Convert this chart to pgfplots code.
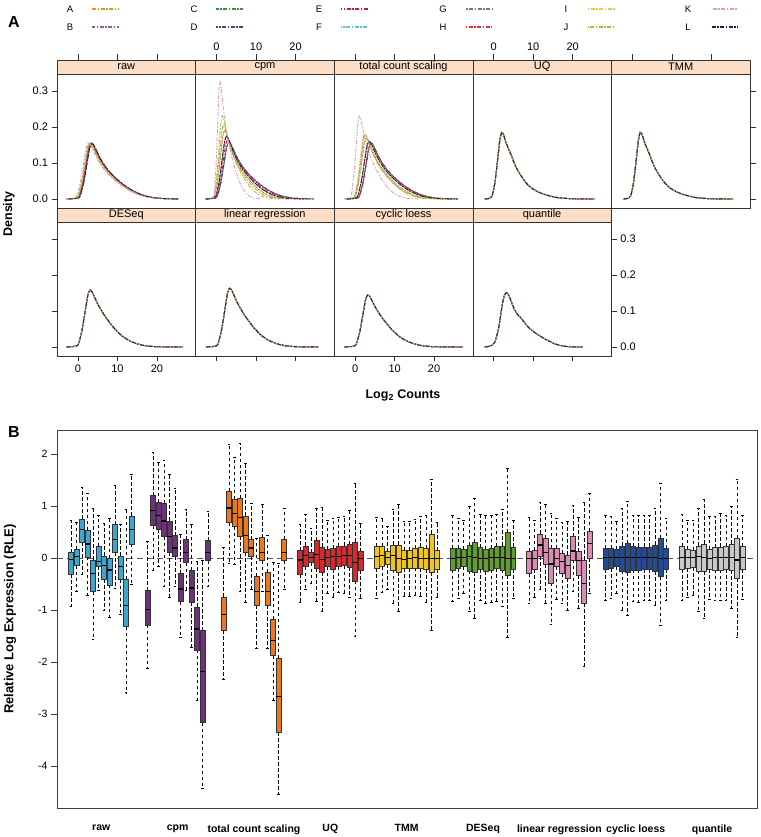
\documentclass[border=0pt]{standalone}
\usepackage{fontspec}
\setmainfont{Liberation Sans}
\usepackage{pgfplots}
\pgfplotsset{compat=1.18}
\usepackage{pgfplotstable}
\usepgfplotslibrary{statistics}

\definecolor{colA}{RGB}{240,140,40}
\definecolor{colB}{RGB}{140,90,160}
\definecolor{colC}{RGB}{60,140,70}
\definecolor{colD}{RGB}{70,70,130}
\definecolor{colE}{RGB}{190,30,60}
\definecolor{colF}{RGB}{100,190,225}
\definecolor{colG}{RGB}{120,120,120}
\definecolor{colH}{RGB}{225,50,50}
\definecolor{colI}{RGB}{240,200,60}
\definecolor{colJ}{RGB}{150,195,70}
\definecolor{colK}{RGB}{220,160,200}
\definecolor{colL}{RGB}{30,30,70}
\definecolor{frame}{RGB}{50,50,50}
\definecolor{stripc}{RGB}{252,221,198}
\definecolor{rawc}{RGB}{60,165,210}
\definecolor{cpmc}{RGB}{110,50,125}
\definecolor{tcsc}{RGB}{235,120,30}
\definecolor{uqc}{RGB}{215,40,45}
\definecolor{tmmc}{RGB}{240,195,30}
\definecolor{desc}{RGB}{95,160,45}
\definecolor{lrc}{RGB}{220,140,180}
\definecolor{clc}{RGB}{35,75,150}
\definecolor{qc}{RGB}{200,200,200}

\tikzset{
 dens/.style={line width=0.9pt, dash pattern=on 4pt off 1.5pt on 1.5pt off 1.5pt},
 dA/.style={dens, draw=colA, dash phase=0pt},
 dB/.style={dens, draw=colB, dash phase=0.7pt},
 dC/.style={dens, draw=colC, dash phase=1.4pt},
 dD/.style={dens, draw=colD, dash phase=2.1pt},
 dE/.style={dens, draw=colE, dash phase=2.8pt},
 dF/.style={dens, draw=colF, dash phase=3.5pt},
 dG/.style={dens, draw=colG, dash phase=4.2pt},
 dH/.style={dens, draw=colH, dash phase=4.9pt},
 dI/.style={dens, draw=colI, dash phase=5.6pt},
 dJ/.style={dens, draw=colJ, dash phase=6.3pt},
 dK/.style={dens, draw=colK, dash phase=7.0pt},
 dL/.style={dens, draw=colL, dash phase=7.7pt},
}

\pgfplotsset{
 dpanel/.style={scale only axis, anchor=south west, width=138.6pt, height=148pt,
   xmin=-5.3, xmax=29.8, ymin=-0.025, ymax=0.3859,
   xtick={0,10,20}, ytick={0,0.1,0.2,0.3},
   tick align=outside, major tick length=5.5pt,
   axis line style={draw=frame, line width=0.6pt},
   tick style={draw=frame, line width=0.6pt},
   tick label style={font=\fontsize{11}{13}\selectfont},
   axis on top,
   every axis plot/.append style={smooth, tension=0.4, no markers}},
 noxl/.style={xticklabels={\empty,\empty,\empty}},
 noyl/.style={yticklabels={\empty,\empty,\empty,\empty}},
 bxs/.style={draw=black, solid, line width=0.5pt,
   boxplot/draw direction=y,
   boxplot/box extend=0.9, boxplot/whisker extend=0.47,
   boxplot/every whisker/.style={dash pattern=on 3.5pt off 2.5pt, line width=0.6pt},
   boxplot/every median/.style={line width=1.3pt}},
}

\newcommand{\strip}[1]{%
 \fill[stripc] (rel axis cs:0,1) rectangle ([yshift=-14pt]rel axis cs:1,1);
 \draw[frame, line width=0.6pt] ([yshift=-14pt]rel axis cs:0,1) -- ([yshift=-14pt]rel axis cs:1,1);
 \node[font=\fontsize{11}{13}\selectfont, inner sep=0pt] at ([yshift=-7pt]rel axis cs:0.5,1) {#1};}

\newcommand{\allsame}[1]{%
 \addplot[dA] table {#1}; \addplot[dB] table {#1}; \addplot[dC] table {#1};
 \addplot[dD] table {#1}; \addplot[dE] table {#1}; \addplot[dF] table {#1};
 \addplot[dG] table {#1}; \addplot[dH] table {#1}; \addplot[dI] table {#1};
 \addplot[dJ] table {#1}; \addplot[dK] table {#1}; \addplot[dL] table {#1};}

\newcommand{\boxgrp}[3]{%
 \pgfplotsinvokeforeach{0,...,11}{%
  \pgfplotstablegetelem{##1}{lw}\of{#1}\let\bLW\pgfplotsretval
  \pgfplotstablegetelem{##1}{lq}\of{#1}\let\bLQ\pgfplotsretval
  \pgfplotstablegetelem{##1}{md}\of{#1}\let\bMD\pgfplotsretval
  \pgfplotstablegetelem{##1}{uq}\of{#1}\let\bUQ\pgfplotsretval
  \pgfplotstablegetelem{##1}{uw}\of{#1}\let\bUW\pgfplotsretval
  \pgfmathsetmacro\bPOS{2.545+13.882*#2+##1}%
  \edef\doit{\noexpand\addplot[bxs, boxplot/every box/.style={fill=#3, draw=black!80, line width=0.5pt}, boxplot prepared={draw direction=y, draw position=\bPOS, lower whisker=\bLW, lower quartile=\bLQ, median=\bMD, upper quartile=\bUQ, upper whisker=\bUW}] coordinates {};}%
  \doit
 }}

% ---------------- density data ----------------
\pgfplotstableread{
x26 x29 x30 x31 x32 x33 x34 x35 y
-3.4 -3.1 -3 -2.9 -2.8 -2.7 -2.6 -2.5 0
-1.4 -1.1 -1 -0.9 -0.8 -0.7 -0.6 -0.5 0.0016
-0.4 -0.1 0 0.1 0.2 0.3 0.4 0.5 0.0062
0.6 0.9 1 1.1 1.2 1.3 1.4 1.5 0.0465
1.6 1.9 2 2.1 2.2 2.3 2.4 2.5 0.1116
2.1 2.4 2.5 2.6 2.7 2.8 2.9 3.0 0.1426
2.6 2.9 3 3.1 3.2 3.3 3.4 3.5 0.155
3.1 3.4 3.5 3.6 3.7 3.8 3.9 4.0 0.1504
3.6 3.9 4 4.1 4.2 4.3 4.4 4.5 0.1395
4.6 4.9 5 5.1 5.2 5.3 5.4 5.5 0.1163
5.6 5.9 6 6.1 6.2 6.3 6.4 6.5 0.0977
6.6 6.9 7 7.1 7.2 7.3 7.4 7.5 0.0822
7.6 7.9 8 8.1 8.2 8.3 8.4 8.5 0.0698
8.6 8.9 9 9.1 9.2 9.3 9.4 9.5 0.0589
10.6 10.9 11 11.1 11.2 11.3 11.4 11.5 0.0403
12.6 12.9 13 13.1 13.2 13.3 13.4 13.5 0.0256
14.6 14.9 15 15.1 15.2 15.3 15.4 15.5 0.0147
16.6 16.9 17 17.1 17.2 17.3 17.4 17.5 0.0074
19.6 19.9 20 20.1 20.2 20.3 20.4 20.5 0.002
24.6 24.9 25 25.1 25.2 25.3 25.4 25.5 0
}\rawd

\pgfplotstableread{
xK yK xJ yJ xA yA xG yG xH yH xE yE xD yD
-2.0 0 -2.58 0 -2.84 0 -2.9 0 -2.84 0 -2.84 0 -2.78 0
-1.05 0.0033 -1.23 0.0023 -1.32 0.0021 -1.26 0.0019 -1.06 0.0017 -0.96 0.0017 -0.82 0.0016
-0.58 0.013 -0.56 0.0092 -0.57 0.0082 -0.45 0.0076 -0.17 0.007 -0.02 0.0066 0.16 0.0063
-0.1 0.0978 0.11 0.0693 0.19 0.0615 0.37 0.057 0.72 0.0522 0.92 0.0495 1.14 0.0474
0.38 0.2347 0.78 0.1663 0.94 0.1476 1.18 0.1368 1.61 0.1253 1.86 0.1188 2.12 0.1138
0.61 0.2999 1.11 0.2125 1.32 0.1886 1.59 0.1748 2.06 0.1601 2.33 0.1518 2.61 0.1454
0.85 0.326 1.45 0.231 1.7 0.205 2.0 0.19 2.5 0.174 2.8 0.165 3.1 0.158
1.09 0.3162 1.79 0.2241 2.08 0.1989 2.41 0.1843 2.95 0.1688 3.27 0.16 3.59 0.1533
1.33 0.2934 2.12 0.2079 2.46 0.1845 2.82 0.171 3.39 0.1566 3.74 0.1485 4.08 0.1422
1.8 0.2445 2.79 0.1733 3.21 0.1538 3.63 0.1425 4.28 0.1305 4.68 0.1238 5.06 0.1185
2.28 0.2054 3.46 0.1455 3.97 0.1292 4.45 0.1197 5.17 0.1096 5.62 0.104 6.04 0.0995
2.75 0.1728 4.13 0.1224 4.72 0.1087 5.26 0.1007 6.06 0.0922 6.56 0.0875 7.02 0.0837
3.23 0.1467 4.81 0.104 5.48 0.0923 6.08 0.0855 6.95 0.0783 7.5 0.0743 8.0 0.0711
3.7 0.1239 5.48 0.0878 6.24 0.0779 6.9 0.0722 7.84 0.0661 8.44 0.0627 8.98 0.06
4.65 0.0848 6.82 0.0601 7.75 0.0533 8.53 0.0494 9.62 0.0452 10.32 0.0429 10.94 0.0411
5.6 0.0538 8.16 0.0381 9.26 0.0338 10.16 0.0314 11.4 0.0287 12.2 0.0272 12.9 0.0261
6.55 0.031 9.5 0.0219 10.77 0.0195 11.79 0.0181 13.18 0.0165 14.08 0.0157 14.86 0.015
7.5 0.0156 10.84 0.0111 12.28 0.0098 13.42 0.0091 14.96 0.0084 15.96 0.0079 16.82 0.0076
8.93 0.0042 12.86 0.003 14.55 0.0027 15.87 0.0025 17.63 0.0023 18.78 0.0021 19.76 0.0021
11.3 0 16.21 0 18.33 0 19.95 0 22.08 0 23.48 0 24.66 0
}\cpmd

\pgfplotstableread{
xK yK xJ yJ xA yA xG yG xH yH xD yD
-2.99 0 -2.74 0 -2.73 0 -2.7 0 -2.32 0 -2 0
-1.65 0.0023 -1.02 0.0018 -0.97 0.0018 -0.87 0.0017 -0.38 0.0016 0 0.0016
-0.97 0.0092 -0.17 0.0072 -0.09 0.007 0.05 0.0068 0.59 0.0064 1 0.0062
-0.3 0.069 0.69 0.0543 0.79 0.0528 0.97 0.0507 1.56 0.048 2 0.0465
0.38 0.1656 1.54 0.1303 1.67 0.1267 1.88 0.1217 2.53 0.1152 3 0.1116
0.71 0.2116 1.97 0.1665 2.11 0.1619 2.34 0.1555 3.02 0.1472 3.5 0.1426
1.05 0.23 2.4 0.181 2.55 0.176 2.8 0.169 3.5 0.16 4 0.155
1.39 0.2231 2.83 0.1756 2.99 0.1707 3.26 0.1639 3.99 0.1552 4.5 0.1504
1.72 0.207 3.26 0.1629 3.43 0.1584 3.72 0.1521 4.47 0.144 5 0.1395
2.4 0.1725 4.11 0.1358 4.31 0.132 4.63 0.1268 5.44 0.12 6 0.1163
3.07 0.1449 4.97 0.114 5.19 0.1109 5.55 0.1065 6.41 0.1008 7 0.0977
3.75 0.1219 5.82 0.0959 6.07 0.0933 6.47 0.0896 7.38 0.0848 8 0.0822
4.42 0.1035 6.68 0.0815 6.95 0.0792 7.39 0.0761 8.35 0.072 9 0.0698
5.09 0.0874 7.54 0.0688 7.83 0.0669 8.3 0.0642 9.32 0.0608 10 0.0589
6.44 0.0598 9.25 0.0471 9.59 0.0458 10.14 0.0439 11.26 0.0416 12 0.0403
7.79 0.038 10.96 0.0299 11.35 0.029 11.97 0.0279 13.2 0.0264 14 0.0256
9.14 0.0219 12.67 0.0172 13.11 0.0167 13.8 0.0161 15.14 0.0152 16 0.0147
10.49 0.011 14.38 0.0087 14.87 0.0084 15.64 0.0081 17.08 0.0077 18 0.0074
12.51 0.003 16.95 0.0024 17.51 0.0023 18.39 0.0022 19.99 0.0021 21 0.002
15.88 0 21.23 0 21.91 0 22.97 0 24.84 0 26 0
}\tcsd

\pgfplotstableread{
x y
-2.3 0
-1 0.002
-0.4 0.009
0.3 0.045
1.0 0.11
1.5 0.16
2.0 0.185
2.5 0.178
3.0 0.16
3.6 0.143
4.5 0.12
5.0 0.105
5.8 0.085
6.6 0.07
7.5 0.055
8.5 0.041
9.5 0.031
11 0.021
12.5 0.014
14 0.009
16 0.004
18.5 0.0015
21 0.0004
25.5 0
}\uqd

\pgfplotstableread{
x y
-2.95 0
-0.95 0.0016
0.05 0.0063
1.05 0.0474
2.05 0.1138
2.55 0.1454
3.05 0.158
3.55 0.1533
4.05 0.1422
5.05 0.1185
6.05 0.0995
7.05 0.0822
8.05 0.0679
9.05 0.0537
11.05 0.0316
13.05 0.0174
15.05 0.0087
17.05 0.0035
20.05 0.0008
26.5 0
}\desd

\pgfplotstableread{
x y
-2.7 0
-0.7 0.0016
0.3 0.0065
1.3 0.0489
2.3 0.1174
2.8 0.15
3.3 0.163
3.8 0.1581
4.3 0.1467
5.3 0.1223
6.3 0.1027
7.3 0.0848
8.3 0.0701
9.3 0.0554
11.3 0.0326
13.3 0.0179
15.3 0.009
17.3 0.0036
20.3 0.0008
25.8 0
}\lrd

\pgfplotstableread{
x y
-2.8 0
-0.8 0.0015
0.2 0.0058
1.2 0.0435
2.2 0.1044
2.7 0.1334
3.2 0.145
3.7 0.1407
4.2 0.1305
5.2 0.1088
6.2 0.0914
7.2 0.0754
8.2 0.0624
9.2 0.0493
11.2 0.029
13.2 0.016
15.2 0.008
17.2 0.0032
20.2 0.0007
27.2 0
}\cld

\pgfplotstableread{
x y
-2.3 0
-0.8 0.003
0.2 0.012
1.2 0.05
2.2 0.12
2.7 0.143
3.2 0.151
3.7 0.146
4.2 0.133
5.2 0.105
6.2 0.088
6.6 0.084
7.5 0.072
8.5 0.058
10 0.043
11.5 0.032
13 0.022
15 0.011
16.5 0.005
18.4 0.0015
20 0.0003
22.5 0
}\qd

% ---------------- RLE box data ----------------
\pgfplotstableread{
lw lq md uq uw
-0.94 -0.31 -0.03 0.10 0.73
-0.65 -0.15 0.03 0.17 0.68
-0.31 0.30 0.54 0.75 1.36
-0.72 0.02 0.27 0.53 1.25
-1.57 -0.65 -0.30 -0.04 0.96
-0.62 -0.16 -0.07 0.22 0.81
-1.00 -0.41 -0.14 0.04 0.67
-1.14 -0.52 -0.23 -0.01 0.77
-0.58 0.11 0.35 0.64 1.39
-1.09 -0.42 -0.17 0.04 0.65
-2.59 -1.32 -0.92 -0.41 0.94
-0.51 0.27 0.55 0.81 1.61
}\rawb
\pgfplotstableread{
lw lq md uq uw
-2.13 -1.29 -0.99 -0.63 0.31
-0.23 0.62 0.91 1.20 2.04
-0.17 0.55 0.82 1.07 1.84
-0.55 0.41 0.71 1.05 1.88
-0.75 0.11 0.41 0.71 1.61
-0.55 0.03 0.19 0.43 1.34
-1.53 -0.84 -0.60 -0.30 0.46
-0.62 -0.09 0.10 0.35 0.93
-1.72 -0.85 -0.58 -0.24 0.64
-2.74 -1.77 -1.37 -0.94 -0.07
-4.43 -3.17 -2.18 -1.40 -0.05
-0.55 -0.05 0.10 0.33 0.89
}\cpmb
\pgfplotstableread{
lw lq md uq uw
-2.33 -1.39 -1.09 -0.75 0.20
-0.10 0.68 0.96 1.28 2.19
-0.13 0.60 0.86 1.13 1.93
-0.64 0.42 0.78 1.15 2.20
-0.85 0.11 0.43 0.81 1.81
-0.60 0.03 0.19 0.35 1.05
-1.74 -0.91 -0.65 -0.35 0.38
-0.64 -0.05 0.10 0.39 1.03
-1.74 -0.91 -0.64 -0.28 0.44
-2.74 -1.88 -1.59 -1.18 -0.09
-4.55 -3.35 -2.66 -1.93 -0.10
-0.60 -0.05 0.11 0.36 0.96
}\tcsb
\pgfplotstableread{
lw lq md uq uw
-0.86 -0.31 -0.04 0.14 0.64
-0.60 -0.17 0.04 0.23 0.83
-0.48 -0.09 0.01 0.10 0.57
-0.83 -0.20 0.06 0.33 0.96
-1.03 -0.28 -0.03 0.21 0.98
-0.69 -0.17 0.01 0.17 0.72
-0.75 -0.22 0.03 0.19 0.76
-0.67 -0.17 0.03 0.22 0.78
-0.68 -0.15 0.04 0.23 0.80
-0.76 -0.18 0.04 0.26 0.91
-1.50 -0.44 -0.09 0.31 1.43
-0.78 -0.24 -0.01 0.12 0.66
}\uqb
\pgfplotstableread{
lw lq md uq uw
-0.78 -0.20 0.03 0.22 0.78
-0.67 -0.17 0.04 0.22 0.76
-0.60 -0.12 0.01 0.12 0.60
-0.87 -0.23 0.04 0.25 0.93
-1.03 -0.28 -0.01 0.25 1.03
-0.73 -0.20 -0.03 0.15 0.70
-0.73 -0.20 -0.01 0.15 0.70
-0.71 -0.19 0.01 0.19 0.75
-0.73 -0.20 -0.01 0.21 0.80
-0.86 -0.22 -0.01 0.19 0.81
-1.39 -0.28 -0.01 0.46 1.52
-0.75 -0.22 -0.01 0.14 0.68
}\tmmb
\pgfplotstableread{
lw lq md uq uw
-0.84 -0.23 -0.01 0.19 0.81
-0.78 -0.20 0.01 0.19 0.76
-0.68 -0.17 0.01 0.17 0.72
-1.02 -0.25 0.03 0.24 0.99
-1.16 -0.28 0.01 0.30 1.15
-0.82 -0.22 -0.01 0.20 0.83
-0.87 -0.26 -0.01 0.17 0.81
-0.85 -0.23 0.01 0.19 0.81
-0.84 -0.20 0.01 0.22 0.83
-0.93 -0.23 0.01 0.23 0.94
-1.53 -0.33 -0.01 0.49 1.72
-0.78 -0.22 -0.01 0.21 0.72
}\desb
\pgfplotstableread{
lw lq md uq uw
-0.87 -0.30 -0.01 0.13 0.78
-0.75 -0.22 -0.01 0.15 0.73
-0.60 0.03 0.25 0.46 1.07
-0.87 -0.12 0.10 0.38 1.04
-1.28 -0.48 -0.12 0.19 0.86
-0.80 -0.17 -0.01 0.19 0.76
-0.87 -0.30 -0.07 0.09 0.68
-1.00 -0.39 -0.15 0.06 0.70
-0.65 -0.04 0.13 0.41 1.02
-0.97 -0.33 -0.05 0.12 0.78
-2.08 -0.87 -0.49 -0.04 1.07
-0.69 -0.01 0.28 0.51 1.25
}\lrb
\pgfplotstableread{
lw lq md uq uw
-0.82 -0.22 0.01 0.19 0.81
-0.78 -0.20 0.01 0.19 0.80
-0.69 -0.17 0.01 0.17 0.70
-1.00 -0.25 0.01 0.23 0.96
-1.10 -0.28 0.01 0.28 1.09
-0.84 -0.23 0.01 0.22 0.81
-0.85 -0.23 0.01 0.21 0.81
-0.82 -0.22 0.01 0.21 0.81
-0.82 -0.22 0.01 0.21 0.81
-0.91 -0.26 0.01 0.25 0.96
-1.29 -0.36 -0.01 0.38 1.44
-0.82 -0.22 -0.01 0.19 0.76
}\clb
\pgfplotstableread{
lw lq md uq uw
-0.82 -0.22 0.01 0.22 0.83
-0.75 -0.20 0.01 0.17 0.72
-0.71 -0.18 0.01 0.15 0.73
-1.03 -0.25 0.03 0.23 0.96
-1.16 -0.26 0.01 0.27 1.13
-0.80 -0.22 -0.01 0.17 0.80
-0.82 -0.23 0.01 0.20 0.80
-0.81 -0.23 0.01 0.21 0.85
-0.81 -0.22 0.01 0.22 0.81
-0.97 -0.24 0.01 0.27 1.00
-1.52 -0.39 -0.04 0.38 1.52
-0.80 -0.22 0.01 0.22 0.81
}\qb

\begin{document}
\begin{tikzpicture}
\path[use as bounding box] (0,0) rectangle (760pt,837pt);

% ---- panel letters and titles ----
\node[font=\bfseries\fontsize{16}{18}\selectfont] at (14pt,815pt) {A};
\node[font=\bfseries\fontsize{16}{18}\selectfont] at (14pt,405pt) {B};
\node[rotate=90, font=\bfseries\fontsize{12.5}{14}\selectfont] at (9pt,623pt) {Density};
\node[font=\bfseries\fontsize{12.5}{14}\selectfont] at (403pt,442pt) {Log\textsubscript{2} Counts};
\node[rotate=90, font=\bfseries\fontsize{13}{15}\selectfont] at (10pt,218pt) {Relative Log Expression (RLE)};

% ---- legend ----
\begin{scope}[every node/.style={font=\fontsize{9.5}{11}\selectfont}]
\node at (70pt,828pt) {A}; \draw[dA, line width=1.2pt] (92pt,828pt) -- (119pt,828pt);
\node at (70pt,810pt) {B}; \draw[dB, line width=1.2pt] (92pt,810pt) -- (119pt,810pt);
\node at (194pt,828pt) {C}; \draw[dC, line width=1.2pt] (216pt,828pt) -- (243pt,828pt);
\node at (194pt,810pt) {D}; \draw[dD, line width=1.2pt] (216pt,810pt) -- (243pt,810pt);
\node at (319pt,828pt) {E}; \draw[dE, line width=1.2pt] (341pt,828pt) -- (368pt,828pt);
\node at (319pt,810pt) {F}; \draw[dF, line width=1.2pt] (341pt,810pt) -- (368pt,810pt);
\node at (443pt,828pt) {G}; \draw[dG, line width=1.2pt] (465pt,828pt) -- (492pt,828pt);
\node at (443pt,810pt) {H}; \draw[dH, line width=1.2pt] (465pt,810pt) -- (492pt,810pt);
\node at (566pt,828pt) {I}; \draw[dI, line width=1.2pt] (588pt,828pt) -- (615pt,828pt);
\node at (566pt,810pt) {J}; \draw[dJ, line width=1.2pt] (588pt,810pt) -- (615pt,810pt);
\node at (688pt,828pt) {K}; \draw[dK, line width=1.2pt] (711pt,828pt) -- (738pt,828pt);
\node at (688pt,810pt) {L}; \draw[dL, line width=1.2pt] (711pt,810pt) -- (738pt,810pt);
\end{scope}

% ================= Panel A, row 1 =================
\begin{axis}[dpanel, at={(57pt,629pt)}, xtick pos=right, noxl, ytick pos=left, yticklabels={0.0,0.1,0.2,0.3}]
\strip{raw}
\addplot[dA] table[x=x32,y=y]{\rawd};
\addplot[dB] table[x=x34,y=y]{\rawd};
\addplot[dC] table[x=x31,y=y]{\rawd};
\addplot[dD] table[x=x35,y=y]{\rawd};
\addplot[dE] table[x=x33,y=y]{\rawd};
\addplot[dF] table[x=x30,y=y]{\rawd};
\addplot[dG] table[x=x32,y=y]{\rawd};
\addplot[dH] table[x=x33,y=y]{\rawd};
\addplot[dI] table[x=x30,y=y]{\rawd};
\addplot[dJ] table[x=x29,y=y]{\rawd};
\addplot[dK] table[x=x26,y=y]{\rawd};
\addplot[dL] table[x=x35,y=y]{\rawd};
\end{axis}

\begin{axis}[dpanel, at={(195.6pt,629pt)}, xtick pos=right, xticklabel pos=right, xticklabels={0,10,20}, ytick=\empty]
\strip{cpm}
\addplot[dA] table[x=xA,y=yA]{\cpmd};
\addplot[dB] table[x=xD,y=yD]{\cpmd};
\addplot[dC] table[x=xD,y=yD]{\cpmd};
\addplot[dD] table[x=xD,y=yD]{\cpmd};
\addplot[dE] table[x=xE,y=yE]{\cpmd};
\addplot[dF] table[x=xH,y=yH]{\cpmd};
\addplot[dG] table[x=xG,y=yG]{\cpmd};
\addplot[dH] table[x=xH,y=yH]{\cpmd};
\addplot[dI] table[x=xG,y=yG]{\cpmd};
\addplot[dJ] table[x=xJ,y=yJ]{\cpmd};
\addplot[dK] table[x=xK,y=yK]{\cpmd};
\addplot[dL] table[x=xH,y=yH]{\cpmd};
\end{axis}

\begin{axis}[dpanel, at={(334.2pt,629pt)}, xtick pos=right, noxl, ytick=\empty]
\strip{total count scaling}
\addplot[dA] table[x=xA,y=yA]{\tcsd};
\addplot[dB] table[x=xD,y=yD]{\tcsd};
\addplot[dC] table[x=xD,y=yD]{\tcsd};
\addplot[dD] table[x=xD,y=yD]{\tcsd};
\addplot[dE] table[x=xD,y=yD]{\tcsd};
\addplot[dF] table[x=xH,y=yH]{\tcsd};
\addplot[dG] table[x=xG,y=yG]{\tcsd};
\addplot[dH] table[x=xH,y=yH]{\tcsd};
\addplot[dI] table[x=xG,y=yG]{\tcsd};
\addplot[dJ] table[x=xJ,y=yJ]{\tcsd};
\addplot[dK] table[x=xK,y=yK]{\tcsd};
\addplot[dL] table[x=xH,y=yH]{\tcsd};
\end{axis}

\begin{axis}[dpanel, at={(472.8pt,629pt)}, xtick pos=right, xticklabel pos=right, xticklabels={0,10,20}, ytick=\empty]
\strip{UQ}
\allsame{\uqd}
\end{axis}

\begin{axis}[dpanel, at={(611.4pt,629pt)}, xtick pos=right, noxl, ytick pos=right, noyl]
\strip{TMM}
\allsame{\uqd}
\end{axis}

% ================= Panel A, row 2 =================
\begin{axis}[dpanel, at={(57pt,481pt)}, xtick pos=left, xticklabels={0,10,20}, ytick pos=left, noyl]
\strip{DESeq}
\allsame{\desd}
\end{axis}

\begin{axis}[dpanel, at={(195.6pt,481pt)}, xtick pos=left, noxl, ytick=\empty]
\strip{linear regression}
\allsame{\lrd}
\end{axis}

\begin{axis}[dpanel, at={(334.2pt,481pt)}, xtick pos=left, xticklabels={0,10,20}, ytick=\empty]
\strip{cyclic loess}
\allsame{\cld}
\end{axis}

\begin{axis}[dpanel, at={(472.8pt,481pt)}, xtick pos=left, noxl, ytick pos=right, yticklabel pos=right, yticklabels={0.0,0.1,0.2,0.3}]
\strip{quantile}
\allsame{\qd}
\end{axis}

% ================= Panel B =================
\begin{axis}[scale only axis, anchor=south west, at={(57pt,29pt)}, width=700pt, height=378pt,
  xmin=0, xmax=127.27, ymin=-4.81, ymax=2.46,
  ytick={-4,-3,-2,-1,0,1,2}, yticklabels={-4,-3,-2,-1,0,1,2}, ytick pos=left,
  tick align=outside, major tick length=6pt,
  xtick={8.045,21.927,35.809,49.691,63.573,77.455,91.337,105.219,119.101},
  xticklabels={raw,cpm,total count scaling,UQ,TMM,DESeq,linear regression,cyclic loess,quantile},
  xtick style={draw=none},
  ytick style={draw=black!75, line width=0.6pt},
  xticklabel style={font=\bfseries\fontsize{10.5}{12}\selectfont, yshift=-7pt},
  yticklabel style={font=\fontsize{10.5}{12}\selectfont},
  axis line style={draw=black!75, line width=0.7pt}]
\addplot[draw=black!65, line width=0.6pt, dash pattern=on 6pt off 4pt] coordinates {(0,0) (127.27,0)};
\boxgrp{\rawb}{0}{rawc}
\boxgrp{\cpmb}{1}{cpmc}
\boxgrp{\tcsb}{2}{tcsc}
\boxgrp{\uqb}{3}{uqc}
\boxgrp{\tmmb}{4}{tmmc}
\boxgrp{\desb}{5}{desc}
\boxgrp{\lrb}{6}{lrc}
\boxgrp{\clb}{7}{clc}
\boxgrp{\qb}{8}{qc}
\end{axis}
\end{tikzpicture}
\end{document}
